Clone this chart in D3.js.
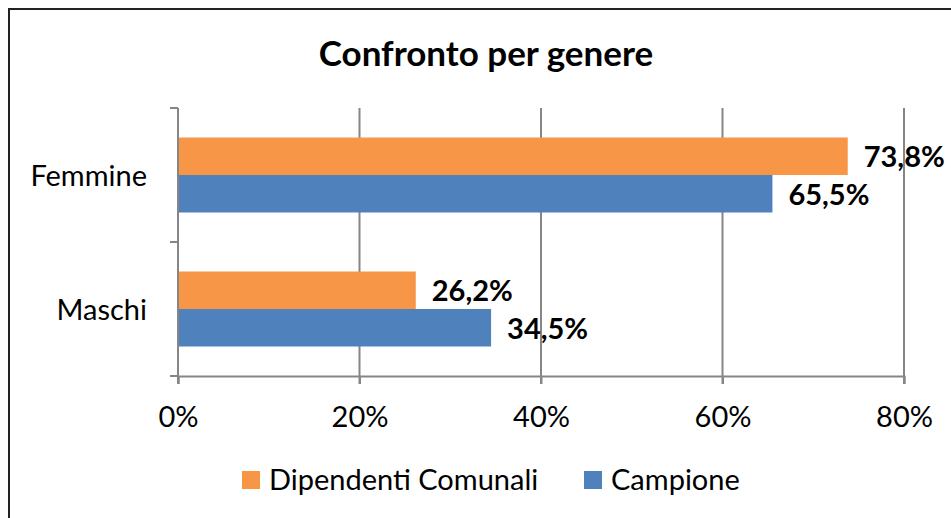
<!DOCTYPE html>
<html lang="it">
<head>
  <meta charset="UTF-8">
  <title>Confronto per genere</title>
  <script src="https://d3js.org/d3.v7.min.js"></script>
  <style>
    body {
      margin: 0;
      padding: 0;
      background: #fff;
      font-family: Lato, "Open Sans", sans-serif;
    }
    svg { display: block; }
  </style>
</head>
<body>
  <div id="chart"></div>

  <script>
    // data
    const categories = ["Femmine", "Maschi"];
    const seriesNames = ["Dipendenti Comunali", "Campione"];
    const seriesColors = ["#f79646", "#4f81bd"];
    const dipendenti = [73.8, 26.2];
    const campione = [65.5, 34.5];
    const xTicks = [0, 20, 40, 60, 80];

    const W = 951, H = 518;
    const plot = { left: 178, right: 904, top: 108, bottom: 376 };

    const svg = d3.select("#chart")
                  .append("svg")
                  .attr("width", W)
                  .attr("height", H);

    // outer chart border (right/bottom run off the picture)
    svg.append("rect")
       .attr("x", 9).attr("y", 9)
       .attr("width", W + 20).attr("height", H + 20)
       .attr("fill", "#fff")
       .attr("stroke", "#222")
       .attr("stroke-width", 2);

    svg.append("text")
       .attr("x", 486).attr("y", 66)
       .attr("text-anchor", "middle")
       .attr("font-size", 35)
       .attr("font-weight", "bold")
       .text("Confronto per genere");

    const x = d3.scaleLinear()
                .domain([0, 80])
                .range([plot.left, plot.right]);

    const y0 = d3.scaleBand()
                 .domain(categories)
                 .range([plot.top, plot.bottom]);

    const y1 = d3.scaleBand()
                 .domain(seriesNames)
                 .range([0, y0.bandwidth()])
                 .paddingOuter(0.787);

    const rows = categories.map((c, i) => ({
      category: c,
      values: [dipendenti[i], campione[i]]
    }));

    // vertical gridlines
    svg.append("g")
       .selectAll("line")
       .data(xTicks.slice(1))
       .enter()
       .append("line")
       .attr("x1", d => x(d)).attr("x2", d => x(d))
       .attr("y1", plot.top).attr("y2", plot.bottom + 8)
       .attr("stroke", "#868686")
       .attr("stroke-width", 2);

    // x axis
    const xAxis = svg.append("g")
       .attr("transform", `translate(0, ${plot.bottom})`)
       .call(d3.axisBottom(x).tickValues(xTicks).tickFormat(d => d + "%").tickSize(8).tickPadding(22));
    xAxis.select(".domain").attr("stroke", "#868686").attr("stroke-width", 2);
    xAxis.selectAll(".tick line").attr("stroke", "#868686").attr("stroke-width", 2);
    xAxis.selectAll("text")
         .attr("font-family", "Lato, sans-serif")
         .attr("font-size", 29)
         .attr("fill", "#000");

    // y axis with ticks at band boundaries
    svg.append("line")
       .attr("x1", plot.left).attr("x2", plot.left)
       .attr("y1", plot.top).attr("y2", plot.bottom + 8)
       .attr("stroke", "#868686").attr("stroke-width", 2);
    const yBounds = categories.map(c => y0(c)).concat([y0(categories[categories.length - 1]) + y0.bandwidth()]);
    svg.append("g")
       .selectAll("line")
       .data(yBounds)
       .enter()
       .append("line")
       .attr("x1", plot.left - 8).attr("x2", plot.left)
       .attr("y1", d => d).attr("y2", d => d)
       .attr("stroke", "#868686").attr("stroke-width", 2);

    svg.append("g")
       .selectAll("text")
       .data(categories)
       .enter()
       .append("text")
       .attr("x", 147)
       .attr("y", d => y0(d) + y0.bandwidth() / 2 + 1)
       .attr("dy", "0.35em")
       .attr("text-anchor", "end")
       .attr("font-size", 29)
       .text(d => d);

    // bars
    const groups = svg.selectAll(".cat")
       .data(rows)
       .enter()
       .append("g")
       .attr("class", "cat")
       .attr("transform", d => `translate(0, ${y0(d.category)})`);

    groups.selectAll("rect")
       .data(d => d.values.map((v, i) => ({ name: seriesNames[i], value: v, color: seriesColors[i] })))
       .enter()
       .append("rect")
       .attr("x", x(0) + 1)
       .attr("y", d => y1(d.name))
       .attr("width", d => x(d.value) - x(0) - 1)
       .attr("height", y1.bandwidth())
       .attr("fill", d => d.color);

    groups.selectAll(".lbl")
       .data(d => d.values.map((v, i) => ({ name: seriesNames[i], value: v })))
       .enter()
       .append("text")
       .attr("class", "lbl")
       .attr("x", d => x(d.value) + 16)
       .attr("y", d => y1(d.name) + y1.bandwidth() / 2 + 1)
       .attr("dy", "0.35em")
       .attr("font-size", 29)
       .attr("font-weight", "bold")
       .text(d => d.value.toFixed(1).replace(".", ",") + "%");

    // legend
    const legendX = [242, 584];
    const legend = svg.selectAll(".leg")
       .data(seriesNames)
       .enter()
       .append("g")
       .attr("class", "leg")
       .attr("transform", (d, i) => `translate(${legendX[i]}, 480)`);
    legend.append("rect")
       .attr("x", 0).attr("y", -9)
       .attr("width", 18).attr("height", 18)
       .attr("fill", (d, i) => seriesColors[i]);
    legend.append("text")
       .attr("x", 27)
       .attr("dy", "0.35em")
       .attr("font-size", 29)
       .text(d => d);
  </script>
</body>
</html>
